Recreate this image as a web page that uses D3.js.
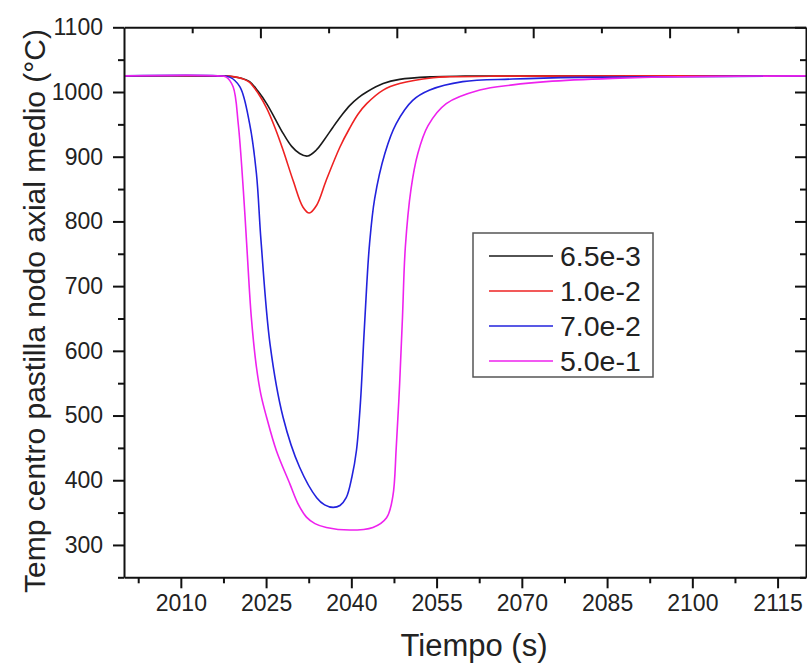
<!DOCTYPE html>
<html>
<head>
<meta charset="utf-8">
<script src="https://cdnjs.cloudflare.com/ajax/libs/d3/7.8.5/d3.min.js"></script>
<style>
  html, body { margin: 0; padding: 0; background: #fff; }
  text { font-family: "Liberation Sans", Arial, sans-serif; fill: #222; }
</style>
</head>
<body>
<svg id="chart" width="807" height="664"></svg>
<script>
// ---- data (time in s, temperature in °C) ----
const seriesNames = ["6.5e-3", "1.0e-2", "7.0e-2", "5.0e-1"];
const seriesColors = ["#1a1a1a", "#ee2222", "#2222dd", "#ee22ee"];

const t_black = [2000, 2016, 2018, 2019.2, 2020.5, 2022.1, 2023.6, 2025.1, 2026.5, 2028.0, 2029.5, 2030.9, 2032.3, 2033.8, 2035.3, 2036.8, 2038.3, 2039.7, 2041.2, 2042.7, 2045.6, 2048.5, 2054.3, 2060, 2120];
const v_black = [1025, 1025, 1024.5, 1023.5, 1021.5, 1016, 1001, 982, 960, 936, 916, 905, 901, 910, 927, 946, 964, 979, 991, 1000, 1013, 1019.5, 1023.5, 1024.5, 1025];

const t_red = [2000, 2016, 2018.5, 2019.8, 2021, 2022.1, 2023.6, 2025.1, 2026.6, 2028.0, 2029.8, 2031.5, 2032.6, 2033.9, 2035.6, 2038.0, 2039.7, 2041.2, 2042.7, 2045.6, 2048.5, 2054.4, 2057.3, 2065, 2120];
const v_red = [1025, 1025, 1024.5, 1023, 1020, 1015, 998, 975, 944, 910, 862, 822, 813, 825, 864, 915, 944, 966, 982, 1003, 1013, 1022, 1023.5, 1024.5, 1025];

const t_blue = [2000, 2016.5, 2018.6, 2020.4, 2022.1, 2023.3, 2024.1, 2025.7, 2028.0, 2030.9, 2033.9, 2035.3, 2036.8, 2038.0, 2039.1, 2040.1, 2040.9, 2041.6, 2042.2, 2042.7, 2043.2, 2044.1, 2045.9, 2047.9, 2050.8, 2053.8, 2059.6, 2068.4, 2080.1, 2097.7, 2120];
const v_blue = [1025, 1025, 1023, 1008, 951, 874, 771, 610, 497, 420, 373, 362, 358, 361, 373, 405, 446, 520, 620, 700, 765, 835, 905, 951, 987, 1003, 1016, 1020, 1022.6, 1023.5, 1025];

const t_mag = [2000, 2016.5, 2018.0, 2019.2, 2020.1, 2021.0, 2021.6, 2022.4, 2023.3, 2024.1, 2025.1, 2026.8, 2029.2, 2030.6, 2032.1, 2033.6, 2035.6, 2039.7, 2043.8, 2046.2, 2047.3, 2047.9, 2048.5, 2049.0, 2049.5, 2050.5, 2051.7, 2053.5, 2056.7, 2062.6, 2068.4, 2074.3, 2086.0, 2097.7, 2120];
const v_mag = [1025, 1025, 1023, 1008, 951, 848, 763, 652, 575, 532, 497, 446, 394, 364, 343, 333, 327, 323, 327, 342, 375, 450, 549, 652, 760, 850, 905, 948, 982, 1003, 1011, 1016, 1021, 1023.5, 1025];

const seriesT = [t_black, t_red, t_blue, t_mag];
const seriesV = [v_black, v_red, v_blue, v_mag];

const xTicks = [2010, 2025, 2040, 2055, 2070, 2085, 2100, 2115];
const xMinorTicks = [2002.5, 2017.5, 2032.5, 2047.5, 2062.5, 2077.5, 2092.5, 2107.5];
const yTicks = [300, 400, 500, 600, 700, 800, 900, 1000, 1100];
const yMinorTicks = [250, 350, 450, 550, 650, 750, 850, 950, 1050];
const topMajor = [2024, 2048, 2072, 2096];
const topMinor = [2012, 2036, 2060, 2084, 2108];

const xTitle = "Tiempo (s)";
const yTitle = "Temp centro pastilla nodo axial medio (°C)";

// ---- layout ----
const L = 124, R = 806, T = 27.3, B = 577.3;
const svg = d3.select("#chart");

const x = d3.scaleLinear().domain([2000, 2120]).range([L, R]);
const y = d3.scaleLinear().domain([250, 1100]).range([B, T]);

svg.append("clipPath").attr("id", "clip").append("rect")
  .attr("x", L).attr("y", T).attr("width", R - L).attr("height", B - T);

const line = d3.line().x(d => x(d[0])).y(d => y(d[1])).curve(d3.curveCatmullRom.alpha(0.5));
const g = svg.append("g").attr("clip-path", "url(#clip)");
seriesT.forEach((ts, i) => {
  const pts = ts.map((t, j) => [t, seriesV[i][j]]);
  g.append("path").datum(pts)
    .attr("d", line)
    .attr("fill", "none")
    .attr("stroke", seriesColors[i])
    .attr("stroke-width", 1.6);
});

function styleAxis(sel) {
  sel.select(".domain").attr("stroke", "#111").attr("stroke-width", 2);
  sel.selectAll(".tick line").attr("stroke", "#111").attr("stroke-width", 2);
}

// bottom axis
const gb = svg.append("g").attr("transform", `translate(0,${B})`)
  .call(d3.axisBottom(x).tickValues(xTicks).tickFormat(d3.format("d")).tickSize(11).tickSizeOuter(0).tickPadding(6));
styleAxis(gb);
gb.selectAll(".tick text").attr("font-size", 23).attr("fill", "#222");
svg.append("g").attr("transform", `translate(0,${B})`)
  .call(d3.axisBottom(x).tickValues(xMinorTicks).tickFormat("").tickSize(6).tickSizeOuter(0))
  .call(styleAxis).select(".domain").remove();

// left axis
const gl = svg.append("g").attr("transform", `translate(${L},0)`)
  .call(d3.axisLeft(y).tickValues(yTicks).tickFormat(d3.format("d")).tickSize(11).tickSizeOuter(0).tickPadding(10));
styleAxis(gl);
gl.selectAll(".tick text").attr("font-size", 23).attr("fill", "#222");
svg.append("g").attr("transform", `translate(${L},0)`)
  .call(d3.axisLeft(y).tickValues(yMinorTicks).tickFormat("").tickSize(6).tickSizeOuter(0))
  .call(styleAxis).select(".domain").remove();

// top axis (inward ticks)
const gt = svg.append("g").attr("transform", `translate(0,${T})`)
  .call(d3.axisBottom(x).tickValues(topMajor).tickFormat("").tickSize(11).tickSizeOuter(0));
styleAxis(gt);
svg.append("g").attr("transform", `translate(0,${T})`)
  .call(d3.axisBottom(x).tickValues(topMinor).tickFormat("").tickSize(6).tickSizeOuter(0))
  .call(styleAxis).select(".domain").remove();

// right axis (inward ticks)
const gr = svg.append("g").attr("transform", `translate(${R},0)`)
  .call(d3.axisLeft(y).tickValues(yTicks).tickFormat("").tickSize(11).tickSizeOuter(0));
styleAxis(gr);
svg.append("g").attr("transform", `translate(${R},0)`)
  .call(d3.axisLeft(y).tickValues(yMinorTicks).tickFormat("").tickSize(6).tickSizeOuter(0))
  .call(styleAxis).select(".domain").remove();

// titles
svg.append("text").attr("x", 474).attr("y", 656).attr("text-anchor", "middle")
  .attr("font-size", 31).text(xTitle);
svg.append("text").attr("transform", "translate(45,311) rotate(-90)")
  .attr("text-anchor", "middle").attr("font-size", 30).text(yTitle);

// legend
const lg = svg.append("g");
lg.append("rect").attr("x", 473).attr("y", 233).attr("width", 180).attr("height", 144)
  .attr("fill", "#fff").attr("stroke", "#555").attr("stroke-width", 1.5);
seriesNames.forEach((n, i) => {
  const yy = 256 + i * 35;
  lg.append("line").attr("x1", 489).attr("x2", 553).attr("y1", yy).attr("y2", yy)
    .attr("stroke", seriesColors[i]).attr("stroke-width", 1.6);
  lg.append("text").attr("x", 560).attr("y", yy + 10).attr("font-size", 28.5).text(n);
});
</script>
</body>
</html>
